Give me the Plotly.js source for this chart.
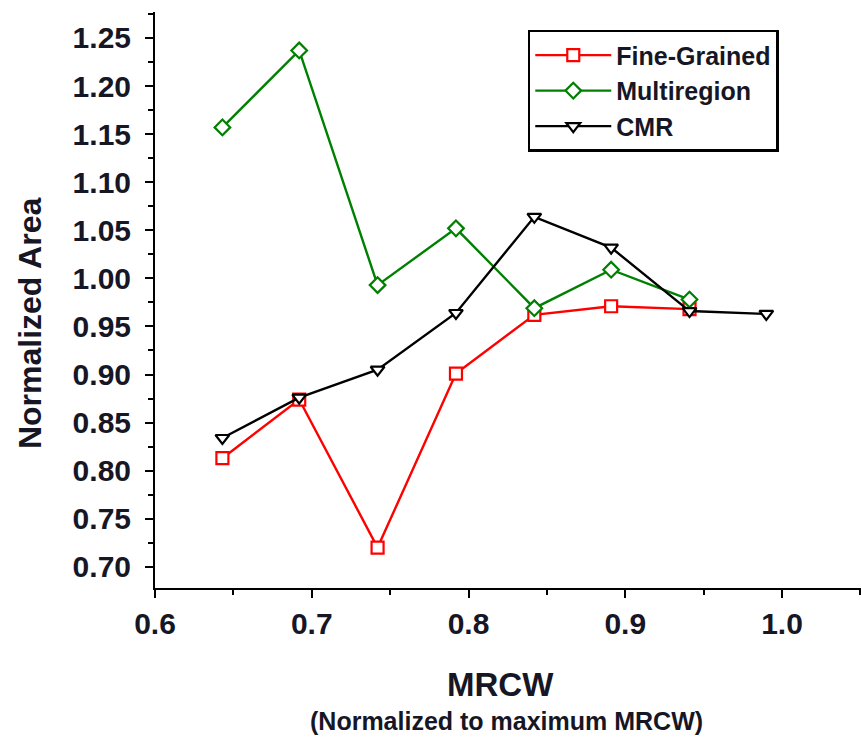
<!DOCTYPE html>
<html><head><meta charset="utf-8">
<script src="https://cdn.plot.ly/plotly-3.0.1.min.js"></script>
<style>body{margin:0;background:#fff}#chart{width:861px;height:737px}</style>
</head><body><div id="chart"></div>
<script>
const mrcw = [0.643, 0.692, 0.742, 0.792, 0.842, 0.891, 0.941, 0.990];
const fineGrained = [0.813, 0.874, 0.720, 0.901, 0.962, 0.971, 0.968];
const multiregion = [1.157, 1.237, 0.993, 1.052, 0.969, 1.009, 0.978];
const cmr = [0.834, 0.876, 0.905, 0.964, 1.064, 1.032, 0.966, 0.963];
const xTickVals = [0.6, 0.7, 0.8, 0.9, 1.0];
const xTickText = ['0.6', '0.7', '0.8', '0.9', '1.0'];
const yTickVals = [0.70, 0.75, 0.80, 0.85, 0.90, 0.95, 1.00, 1.05, 1.10, 1.15, 1.20, 1.25];
const yTickText = ['0.70','0.75','0.80','0.85','0.90','0.95','1.00','1.05','1.10','1.15','1.20','1.25'];

const font = 'Liberation Sans, Arial, sans-serif';
const txt = '#161625';
function tr(name, y, color, symbol) {
  return {x: mrcw.slice(0, y.length), y: y, name: name, type: 'scatter', mode: 'lines+markers',
    line: {color: color, width: 2.4},
    marker: {symbol: symbol, size: 12, color: '#fff', line: {color: color, width: 2.2}}};
}
const data = [
  tr('Fine-Grained', fineGrained, '#ff0000', 'square'),
  tr('Multiregion', multiregion, '#008000', 'diamond'),
  tr('CMR', cmr, '#000000', 'triangle-down')
];
function axisStyle() {
  return {showgrid: false, zeroline: false, showline: true, linecolor: '#000', linewidth: 2,
    ticks: 'outside', ticklen: 8, tickwidth: 2, tickcolor: '#000',
    tickfont: {size: 30, color: txt, weight: 'bold'}};
}
const layout = {
  width: 861, height: 737, paper_bgcolor: '#fff', plot_bgcolor: '#fff',
  margin: {l: 155, r: 0, t: 12, b: 149},
  font: {family: font, color: txt},
  xaxis: Object.assign(axisStyle(), {range: [0.6, 1.0504], tickvals: xTickVals, ticktext: xTickText,
    minor: {dtick: 0.05, tick0: 0.6, ticks: 'outside', ticklen: 5, tickwidth: 2, tickcolor: '#000', showgrid: false}}),
  yaxis: Object.assign(axisStyle(), {range: [0.678, 1.277], tickvals: yTickVals, ticktext: yTickText, ticklabelstandoff: 8,
    minor: {dtick: 0.025, tick0: 0.7, ticks: 'outside', ticklen: 5, tickwidth: 2, tickcolor: '#000', showgrid: false}}),
  legend: {x: 0.528, y: 0.969, xanchor: 'left', yanchor: 'top', bgcolor: '#fff', bordercolor: '#000', borderwidth: 2.5,
    font: {size: 25, color: txt, weight: 'bold'}, tracegroupgap: 0, itemwidth: 76},
  showlegend: true,
  annotations: [
    {text: 'MRCW', xref: 'paper', yref: 'paper', x: 0.49, y: -0.167, yanchor: 'middle', showarrow: false, font: {size: 33, color: txt, weight: 'bold'}},
    {text: '(Normalized to maximum MRCW)', xref: 'paper', yref: 'paper', x: 0.498, y: -0.231, yanchor: 'middle', showarrow: false, font: {size: 25, color: txt, weight: 'bold'}},
    {text: 'Normalized Area', xref: 'paper', yref: 'paper', x: -0.177, y: 0.46, xanchor: 'center', yanchor: 'middle', textangle: -90, showarrow: false, font: {size: 32, color: txt, weight: 'bold'}}
  ]
};
Plotly.newPlot('chart', data, layout, {displayModeBar: false, staticPlot: true});
</script></body></html>
